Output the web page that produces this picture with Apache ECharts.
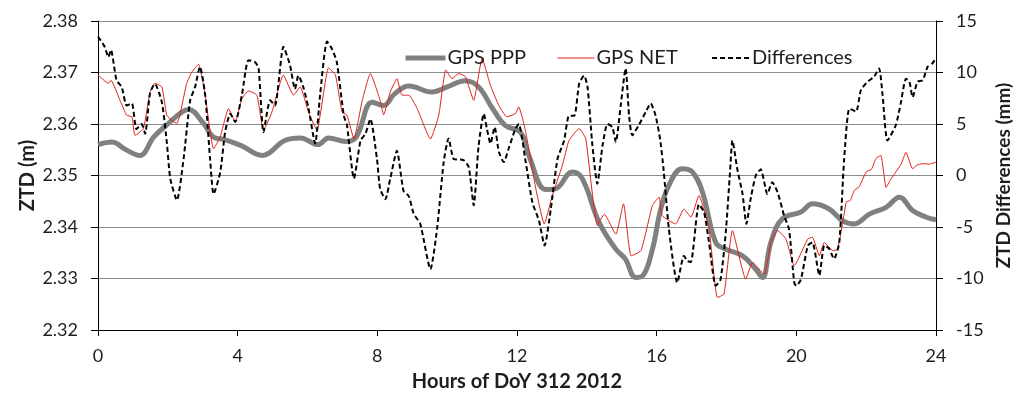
<!DOCTYPE html>
<html>
<head>
<meta charset="utf-8">
<script src="https://cdn.jsdelivr.net/npm/echarts@6/dist/echarts.min.js"></script>
<style>
html,body{margin:0;padding:0;background:#fff;}
#c{width:1024px;height:397px;}
</style>
</head>
<body>
<div id="c"></div>
<script>
// ---- data (hours of day, values) ----
const xTicks = [0, 4, 8, 12, 16, 20, 24];
const leftTicks = [2.32, 2.33, 2.34, 2.35, 2.36, 2.37, 2.38];
const rightTicks = [-15, -10, -5, 0, 5, 10, 15];

const pppHours = [0,0.4,0.8,1.2,1.6,2.0,2.4,2.6,3.0,3.3,3.6,4.1,4.7,5.35,5.8,6.3,6.6,7.1,7.4,7.85,8.18,8.5,8.9,9.57,10.0,10.52,10.9,11.3,11.67,12.1,12.34,12.82,13.1,13.58,13.87,14.35,14.83,15.1,15.4,15.6,15.88,16.1,16.35,16.73,17.02,17.31,17.69,17.98,18.46,18.84,19.03,19.27,19.6,20.13,20.46,20.94,21.33,21.66,22.09,22.57,22.95,23.33,23.72,24];
const pppValues = [2.356,2.3565,2.355,2.3539,2.3575,2.36,2.3623,2.3628,2.3603,2.3575,2.357,2.3558,2.3539,2.3568,2.3573,2.356,2.3573,2.3566,2.3575,2.3642,2.3636,2.3659,2.3674,2.3662,2.3672,2.3684,2.3672,2.363,2.3597,2.3584,2.3539,2.3473,2.3474,2.3507,2.3494,2.3409,2.3357,2.3338,2.3302,2.3305,2.3357,2.343,2.3481,2.3513,2.3507,2.3468,2.337,2.3357,2.3344,2.3318,2.3302,2.337,2.3416,2.3429,2.3445,2.3435,2.3412,2.3406,2.3425,2.3438,2.3458,2.3432,2.3419,2.3414];

const netHours = [0,0.3,0.37,0.63,0.82,0.97,1.06,1.3,1.49,1.63,1.83,1.97,2.12,2.26,2.54,2.69,2.88,3.07,3.31,3.5,3.74,3.93,4.12,4.31,4.55,4.74,4.98,5.31,5.6,5.79,6.03,6.27,6.6,6.8,6.99,7.13,7.33,7.56,7.8,8.08,8.18,8.37,8.56,8.71,8.9,9.14,9.52,9.76,9.96,10.14,10.33,10.52,10.76,11.0,11.24,11.48,11.71,11.95,12.05,12.25,12.54,12.78,13.01,13.3,13.49,13.78,13.97,14.3,14.5,14.83,15.05,15.27,15.55,15.88,16.07,16.16,16.54,16.78,16.98,17.21,17.5,17.74,17.93,18.17,18.55,18.75,19.08,19.27,19.46,19.7,19.94,20.33,20.46,20.66,20.8,21.05,21.18,21.33,21.43,21.55,21.66,21.8,22.0,22.15,22.28,22.42,22.57,22.7,22.85,23.0,23.14,23.33,23.45,23.62,23.8,24];
const netValues = [2.3695,2.3679,2.3685,2.3646,2.3617,2.3614,2.3578,2.3591,2.3662,2.3679,2.3672,2.3617,2.3607,2.3601,2.3679,2.3701,2.3716,2.3656,2.3552,2.3575,2.363,2.3604,2.3649,2.3664,2.3656,2.3588,2.3623,2.3695,2.3656,2.3672,2.3623,2.3588,2.3709,2.3695,2.3623,2.3617,2.3571,2.3643,2.3698,2.3646,2.3618,2.3662,2.3688,2.3656,2.3656,2.363,2.3571,2.3617,2.3705,2.3688,2.3698,2.3692,2.3646,2.3727,2.3675,2.3636,2.3614,2.362,2.3633,2.3584,2.3474,2.3406,2.3461,2.352,2.3568,2.3591,2.3571,2.3403,2.3425,2.3386,2.3445,2.3344,2.3354,2.3442,2.3458,2.3422,2.3406,2.3435,2.3419,2.3461,2.3396,2.3263,2.327,2.3393,2.3299,2.3331,2.3308,2.337,2.3393,2.3377,2.3325,2.3377,2.338,2.3344,2.337,2.3354,2.3357,2.3409,2.3448,2.3452,2.3471,2.3478,2.3507,2.3512,2.3533,2.3539,2.3477,2.3492,2.3507,2.3522,2.3545,2.3513,2.352,2.3523,2.3522,2.3526];

const diffHours = [0,0.19,0.3,0.37,0.53,0.68,0.82,0.97,1.1,1.25,1.35,1.49,1.63,1.83,1.97,2.07,2.26,2.45,2.64,2.78,2.92,3.07,3.21,3.31,3.5,3.64,3.79,3.93,4.12,4.31,4.5,4.6,4.74,4.93,5.07,5.31,5.5,5.64,5.74,5.88,6.03,6.22,6.36,6.56,6.7,6.84,7.04,7.13,7.33,7.52,7.66,7.8,7.99,8.08,8.23,8.37,8.56,8.75,8.9,9.04,9.23,9.52,9.71,9.9,10.04,10.19,10.47,10.62,10.76,10.9,11.05,11.14,11.24,11.36,11.48,11.62,11.76,11.95,12.05,12.25,12.44,12.63,12.79,12.97,13.16,13.35,13.49,13.64,13.78,13.92,14.02,14.16,14.3,14.45,14.59,14.73,14.83,14.97,15.11,15.21,15.3,15.49,15.69,15.83,15.97,16.1,16.2,16.35,16.59,16.78,16.88,16.98,17.21,17.36,17.5,17.69,17.83,17.98,18.1,18.17,18.31,18.46,18.57,18.7,18.84,18.98,19.17,19.31,19.46,19.65,19.79,19.94,20.0,20.13,20.33,20.46,20.66,20.8,20.94,21.08,21.23,21.37,21.52,21.71,21.85,22.04,22.23,22.37,22.47,22.61,22.85,22.99,23.14,23.24,23.33,23.47,23.62,23.76,23.9,24];
const diffValues = [13.5,12.5,11.5,12.2,9.25,8.6,6.8,7.0,4.5,5.0,4.05,8.0,8.9,7.1,3.25,-0.3,-2.4,1.6,7.3,8.6,10.55,7.8,1.6,-1.8,0.3,4.2,6.0,5.2,7.8,11.2,11.0,10.4,4.2,7.3,6.8,12.5,10.7,8.4,9.7,8.6,6.5,3.1,7.8,13.0,12.3,11.0,5.8,4.9,-0.3,3.4,4.05,5.5,1.6,-1.3,-2.3,-0.3,2.4,-1.5,-2.0,-3.7,-4.7,-9.1,-5.2,1.3,3.6,1.6,1.5,0.8,-2.9,2.9,6.0,4.5,3.1,4.7,2.3,1.3,2.6,4.5,5.0,1.3,-2.6,-4.4,-6.8,-3.2,1.6,3.4,5.8,5.8,8.9,9.7,8.6,2.9,-0.8,2.9,5.0,4.7,3.25,6.8,10.4,5.8,3.9,4.9,6.2,7.0,5.8,3.5,0.5,-5.2,-10.4,-7.8,-8.3,-8.4,-2.8,-3.6,-6.5,-10.7,-10.1,-5.5,0.3,3.4,0.6,-1.8,-4.7,-2.1,0.0,0.6,-1.8,-0.65,-1.6,-3.9,-5.2,-10.4,-10.7,-10.1,-6.8,-6.5,-9.7,-6.8,-7.1,-8.1,-6.5,1.6,6.5,6.2,8.3,9.1,9.6,10.4,7.8,3.4,4.9,7.0,9.4,9.1,7.6,9.1,9.25,10.55,10.9,11.4];

const zip = (xs, ys) => xs.map((x, i) => [x, ys[i]]);

const FONT = 'Lato';
const TXT = '#1e1e1e';

const chart = echarts.init(document.getElementById('c'), null, {renderer: 'canvas'});

function legendAt(name, left, width, lineStyle) {
  return {
    data: [name], left: left, top: 48, itemWidth: width, itemHeight: 14, itemGap: 0,
    textStyle: {fontFamily: FONT, fontSize: 20, color: TXT, padding: [0,0,0,-3]},
    itemStyle: {opacity: 0},
    lineStyle: lineStyle,
    padding: 0, selectedMode: false
  };
}

chart.setOption({
  animation: false,
  backgroundColor: '#fff',
  grid: {left: 98, right: 88, top: 21, bottom: 67},
  legend: [
    legendAt('GPS PPP', 403, 40, {width: 5, color: '#808080'}),
    legendAt('GPS NET', 557, 37, {width: 1, color: '#e0221b'}),
    legendAt('Differences', 711, 38, {width: 2, color: '#000', type: [5, 3]})
  ],
  xAxis: {
    type: 'value', min: xTicks[0], max: xTicks[xTicks.length - 1], interval: 4,
    name: 'Hours of DoY 312 2012', nameLocation: 'middle', nameGap: 42,
    nameTextStyle: {fontFamily: FONT, fontSize: 20, fontWeight: 'bold', color: TXT},
    axisLine: {onZero: false, lineStyle: {color: '#000', width: 1}},
    axisTick: {show: true, inside: false, length: 6, lineStyle: {color: '#000'}},
    axisLabel: {fontFamily: FONT, fontSize: 18, color: TXT, margin: 17},
    splitLine: {show: false}
  },
  yAxis: [
    {
      type: 'value', min: leftTicks[0], max: leftTicks[leftTicks.length - 1], interval: 0.01,
      position: 'left',
      name: 'ZTD (m)', nameLocation: 'middle', nameGap: 60, nameRotate: 90,
      nameMoveOverlap: false,
      nameTextStyle: {fontFamily: FONT, fontSize: 20, fontWeight: 'bold', color: TXT},
      axisLine: {show: true, lineStyle: {color: '#000', width: 1}},
      axisTick: {show: true, inside: false, length: 7, lineStyle: {color: '#000'}},
      axisLabel: {fontFamily: FONT, fontSize: 18, color: TXT, margin: 20,
        formatter: v => v.toFixed(2)},
      splitLine: {show: true, lineStyle: {color: '#8c8c8c', width: 1}}
    },
    {
      type: 'value', min: rightTicks[0], max: rightTicks[rightTicks.length - 1], interval: 5,
      position: 'right',
      name: 'ZTD Differences (mm)', nameLocation: 'middle', nameGap: 57, nameRotate: 90,
      nameTextStyle: {fontFamily: FONT, fontSize: 19, fontWeight: 'bold', color: TXT},
      axisLine: {show: true, lineStyle: {color: '#000', width: 1}},
      axisTick: {show: true, inside: false, length: 7, lineStyle: {color: '#000'}},
      axisLabel: {fontFamily: FONT, fontSize: 18, color: TXT, margin: 20},
      splitLine: {show: false}
    }
  ],
  series: [
    {
      name: 'GPS PPP', type: 'line', yAxisIndex: 0, data: zip(pppHours, pppValues),
      symbol: 'none', smooth: 0.4,
      lineStyle: {color: '#808080', width: 5},
      itemStyle: {color: '#808080'}, z: 2
    },
    {
      name: 'GPS NET', type: 'line', yAxisIndex: 0, data: zip(netHours, netValues),
      symbol: 'none', smooth: 0.15,
      lineStyle: {color: '#e0221b', width: 1},
      itemStyle: {color: '#e0221b'}, z: 3
    },
    {
      name: 'Differences', type: 'line', yAxisIndex: 1, data: zip(diffHours, diffValues),
      symbol: 'none', smooth: 0.2,
      lineStyle: {color: '#000', width: 2, type: [5, 3]},
      itemStyle: {color: '#000'}, z: 4
    }
  ]
});
</script>
</body>
</html>
